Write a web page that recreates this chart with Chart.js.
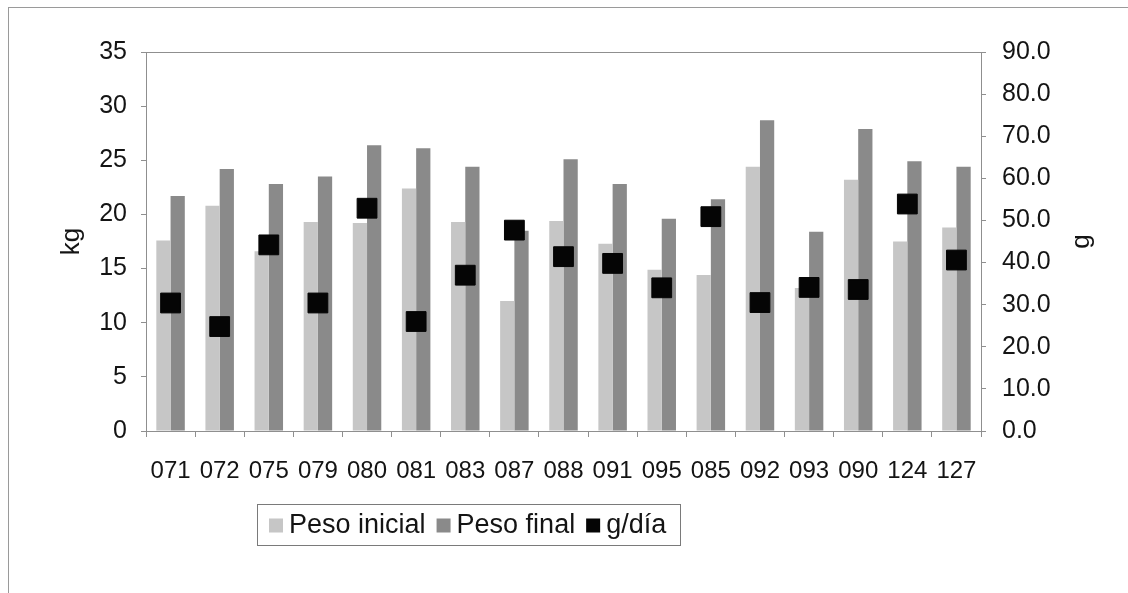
<!DOCTYPE html>
<html>
<head>
<meta charset="utf-8">
<script src="https://cdn.jsdelivr.net/npm/chart.js@4.4.1/dist/chart.umd.min.js"></script>
<style>
  html, body { margin: 0; padding: 0; background: #fff; overflow: hidden; }
  #wrap { position: relative; width: 1128px; height: 593px; }
  #frame { position: absolute; left: 8px; top: 7px; width: 1200px; height: 700px;
           border-left: 1px solid #9a9a9a; border-top: 1px solid #9a9a9a; }
  #c { position: absolute; left: 0; top: 0; }
</style>
</head>
<body>
<div id="wrap">
  <div id="frame"></div>
  <canvas id="c" width="1128" height="593"></canvas>
</div>
<script>
// Animal IDs along the x axis
const animales = ['071','072','075','079','080','081','083','087','088','091','095','085','092','093','090','124','127'];
// Body weight at start and end of the trial (kg)
const pesoInicial = [17.6, 20.8, 16.6, 19.3, 19.2, 22.4, 19.3, 12.0, 19.4, 17.3, 14.9, 14.4, 24.4, 13.2, 23.2, 17.5, 18.8];
const pesoFinal   = [21.7, 24.2, 22.8, 23.5, 26.4, 26.1, 24.4, 18.5, 25.1, 22.8, 19.6, 21.4, 28.7, 18.4, 27.9, 24.9, 24.4];
// Daily gain (g/día), right axis
const gDia        = [30.4, 24.8, 44.2, 30.4, 52.9, 26.0, 37.0, 47.7, 41.4, 39.8, 34.0, 50.9, 30.5, 34.1, 33.6, 53.9, 40.6];

const FONT = 'Liberation Sans, Arial, sans-serif';
const AXIS = '#8f8f8f';
const TXT = '#141414';

// Plot-area frame plus the right-hand axis title (read bottom to top, like the left one)
const plotFrame = {
  id: 'plotFrame',
  afterDatasetsDraw(chart) {
    const { ctx, chartArea: a } = chart;
    ctx.save();
    ctx.strokeStyle = AXIS;
    ctx.lineWidth = 1;
    ctx.strokeRect(Math.round(a.left) + 0.5, Math.round(a.top) + 0.5,
                   Math.round(a.right - a.left), Math.round(a.bottom - a.top));
    ctx.restore();
  },
  afterDraw(chart) {
    const { ctx, chartArea: a } = chart;
    ctx.save();
    ctx.translate(a.right + 101, (a.top + a.bottom) / 2);
    ctx.rotate(-Math.PI / 2);
    ctx.font = '26px ' + FONT;
    ctx.fillStyle = TXT;
    ctx.textAlign = 'center';
    ctx.textBaseline = 'middle';
    ctx.fillText('g', 0, 0);
    ctx.restore();
  }
};

// Boxed legend below the axis
const boxedLegend = {
  id: 'boxedLegend',
  afterDraw(chart) {
    const ctx = chart.ctx;
    const x0 = 257, y0 = 504, w = 423, h = 41;
    ctx.save();
    ctx.fillStyle = '#fff';
    ctx.fillRect(x0, y0, w, h);
    ctx.strokeStyle = '#7a7a7a';
    ctx.lineWidth = 1;
    ctx.strokeRect(x0 + 0.5, y0 + 0.5, w, h);
    ctx.font = '27px ' + FONT;
    ctx.textBaseline = 'middle';
    const cy = y0 + h / 2 + 1;
    let x = x0 + 12;
    chart.data.datasets.forEach(ds => {
      const sw = 14;
      ctx.fillStyle = ds.legendColor;
      ctx.fillRect(x, cy - sw / 2, sw, sw);
      x += sw + 6;
      ctx.fillStyle = TXT;
      ctx.fillText(ds.label, x, cy);
      x += ctx.measureText(ds.label).width + 11;
    });
    ctx.restore();
  }
};

new Chart(document.getElementById('c'), {
  data: {
    labels: animales,
    datasets: [
      {
        type: 'bar', label: 'Peso inicial', data: pesoInicial, yAxisID: 'y',
        backgroundColor: '#c6c6c6', legendColor: '#c6c6c6',
        categoryPercentage: 0.58, barPercentage: 1.0, order: 1
      },
      {
        type: 'bar', label: 'Peso final', data: pesoFinal, yAxisID: 'y',
        backgroundColor: '#8a8a8a', legendColor: '#8a8a8a',
        categoryPercentage: 0.58, barPercentage: 1.0, order: 1
      },
      {
        type: 'line', label: 'g/día', data: gDia, yAxisID: 'y1',
        showLine: false, pointStyle: 'rect', pointRadius: 14, pointHoverRadius: 14,
        backgroundColor: '#050505', borderColor: '#050505', borderWidth: 1,
        legendColor: '#050505', order: 0
      }
    ]
  },
  options: {
    responsive: false,
    animation: false,
    layout: { padding: { top: 52, left: 0, right: 0, bottom: 0 } },
    plugins: { legend: { display: false }, tooltip: { enabled: false } },
    scales: {
      x: {
        offset: true,
        grid: { display: true, offset: true, drawOnChartArea: false, drawTicks: true, tickLength: 6, color: AXIS },
        border: { display: true, color: AXIS },
        ticks: { color: TXT, font: { family: FONT, size: 24 }, padding: 20, maxRotation: 0, autoSkip: false },
        afterFit: s => { s.height = 162; }
      },
      y: {
        position: 'left', min: 0, max: 35,
        grid: { drawOnChartArea: false, drawTicks: true, tickLength: 5, color: AXIS },
        border: { display: true, color: AXIS },
        ticks: { stepSize: 5, color: TXT, font: { family: FONT, size: 25 }, padding: 14 },
        title: { display: true, text: 'kg', color: TXT, font: { family: FONT, size: 26 }, padding: { top: 56, bottom: 0 } },
        afterFit: s => { s.width = 146; }
      },
      y1: {
        position: 'right', min: 0, max: 90,
        grid: { drawOnChartArea: false, drawTicks: true, tickLength: 5, color: AXIS },
        border: { display: true, color: AXIS },
        ticks: { stepSize: 10, color: TXT, font: { family: FONT, size: 25 }, padding: 16,
                 callback: v => Number(v).toFixed(1) },
        afterFit: s => { s.width = 147; }
      }
    }
  },
  plugins: [plotFrame, boxedLegend]
});
</script>
</body>
</html>
